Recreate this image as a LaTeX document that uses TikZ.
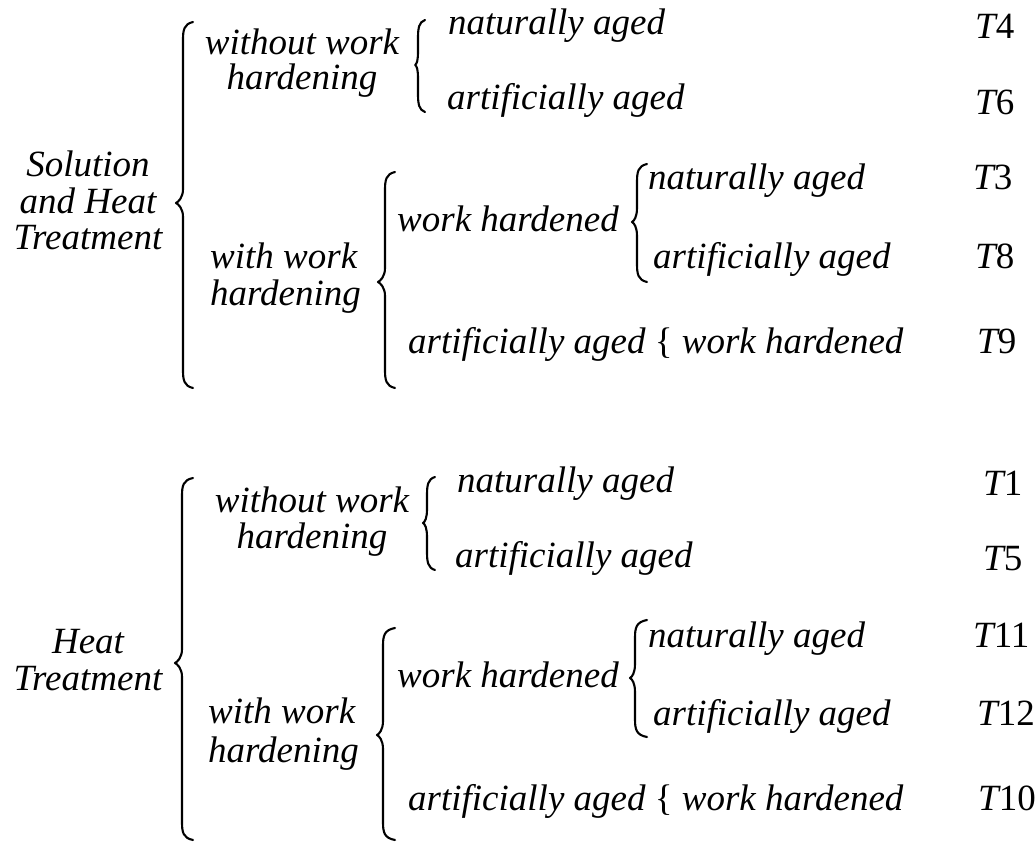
\documentclass[tikz,border=0pt]{standalone}
\usepackage{fontspec}
\setmainfont[Ligatures=CommonOff]{Liberation Serif}
\tikzset{
  lbl/.style={inner sep=0pt, font=\fontsize{37}{44}\selectfont\itshape},
  lw/.style={lbl, anchor=base west},
  lc/.style={lbl, anchor=base},
  brc/.style={line width=2.1pt, line cap=round, line join=round}
}
\newcommand\drawbrace[6]{%
  \draw[brc] (#3,#4) .. controls ({#2+1},{#4+2}) and (#2,{#4+8}) .. (#2,{#4+18})
    -- (#2,{#5-14}) .. controls (#2,{#5-5}) and ({#1+2},{#5-1}) .. (#1,#5)
    .. controls ({#1+2},{#5+1}) and (#2,{#5+5}) .. (#2,{#5+14})
    -- (#2,{#6-18}) .. controls (#2,{#6-8}) and ({#2+1},{#6-2}) .. (#3,#6);}
\newcommand\tlab[1]{\textit{T}\upshape #1}
\begin{document}
\begin{tikzpicture}[x=1pt,y=-1pt]
\useasboundingbox (0,0) rectangle (1035,842);
% ---------- top group ----------
\node[lc] (s1) at (88,177) {Solution};
\node[lc] (s2) at (88,214) {and Heat};
\node[lc] (s3) at (88,250) {Treatment};
\drawbrace{176}{183}{193}{22}{203}{388}
\node[lc] (a1) at (302,55) {without work};
\node[lc] (a2) at (302,90) {hardening};
\drawbrace{415}{418}{425}{20}{65}{112}
\node[lw] (a3) at (448,35) {naturally aged};
\node[lw] (a4) at (447,110) {artificially aged};
\node[lw] (t4) at (975,39) {\tlab{4}};
\node[lw] (t6) at (975,115) {\tlab{6}};
\node[lw] (b1) at (210,268) {with work};
\node[lw] (b2) at (210,305) {hardening};
\drawbrace{378}{385}{395}{172}{282}{388}
\node[lw] (b3) at (397,232) {work hardened};
\drawbrace{632}{637}{647}{164}{222}{282}
\node[lw] (b4) at (648,190) {naturally aged};
\node[lw] (b5) at (653,268) {artificially aged};
\node[lw] (b6) at (408,353) {artificially aged {\upshape\{} work hardened};
\node[lw] (t3) at (973,190) {\tlab{3}};
\node[lw] (t8) at (975,268) {\tlab{8}};
\node[lw] (t9) at (977,353) {\tlab{9}};
% ---------- bottom group ----------
\node[lc] (h1) at (88,653) {Heat};
\node[lc] (h2) at (88,690) {Treatment};
\drawbrace{175}{182}{193}{478}{663}{840}
\node[lc] (c1) at (312,512) {without work};
\node[lc] (c2) at (312,548) {hardening};
\drawbrace{423}{427}{435}{477}{523}{570}
\node[lw] (c3) at (457,492) {naturally aged};
\node[lw] (c4) at (455,567) {artificially aged};
\node[lw] (t1) at (983,495) {\tlab{1}};
\node[lw] (t5) at (983,570) {\tlab{5}};
\node[lw] (d1) at (208,723) {with work};
\node[lw] (d2) at (208,762) {hardening};
\drawbrace{377}{383}{395}{628}{735}{840}
\node[lw] (d3) at (397,687) {work hardened};
\drawbrace{630}{635}{647}{620}{678}{737}
\node[lw] (d4) at (648,647) {naturally aged};
\node[lw] (d5) at (653,725) {artificially aged};
\node[lw] (d6) at (408,810) {artificially aged {\upshape\{} work hardened};
\node[lw] (t11) at (973,647) {\tlab{11}};
\node[lw] (t12) at (977,725) {\tlab{12}};
\node[lw] (t10) at (978,810) {\tlab{10}};
\end{tikzpicture}
\end{document}
